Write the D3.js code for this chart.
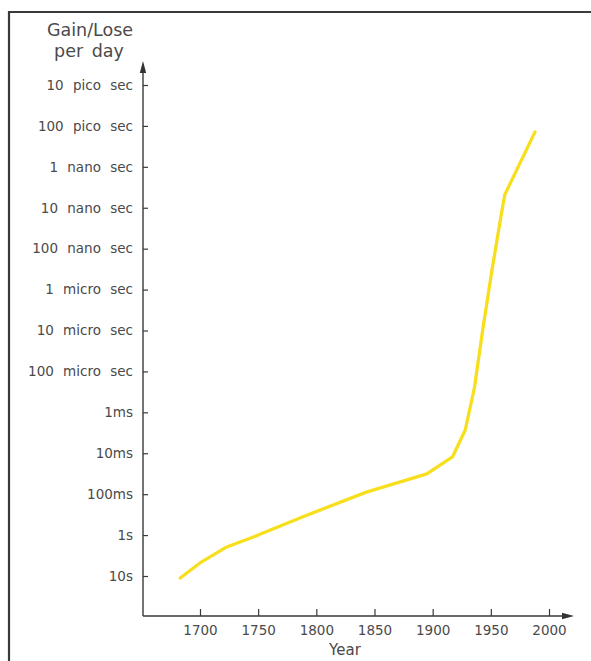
<!DOCTYPE html>
<html>
<head>
<meta charset="utf-8">
<script src="https://cdn.jsdelivr.net/npm/d3@7"></script>
<style>
  html, body { margin: 0; padding: 0; background: #fff; }
  svg { display: block; }
  text { font-family: "DejaVu Sans", sans-serif; fill: #4a4a4a; }
</style>
</head>
<body>
<svg id="chart" width="591" height="661"></svg>
<script>
// ---- data ----
const years = [1683, 1700, 1723, 1750, 1788, 1843, 1895, 1917, 1928, 1936, 1943, 1951, 1959.7, 1962, 1988];
const gainLoseSeconds = [11.2, 4.8, 1.95, 1.0, 0.36, 0.089, 0.032, 0.0123, 0.0027, 0.00024, 9.7e-6, 3.3e-7, 1.1e-8, 4.8e-9, 1.4e-10];
const yTickValues = [10, 1, 0.1, 0.01, 0.001, 1e-4, 1e-5, 1e-6, 1e-7, 1e-8, 1e-9, 1e-10, 1e-11];
const yTickLabels = ["10s", "1s", "100ms", "10ms", "1ms", "100 micro sec", "10 micro sec", "1 micro sec",
                     "100 nano sec", "10 nano sec", "1 nano sec", "100 pico sec", "10 pico sec"];
const xTickValues = [1700, 1750, 1800, 1850, 1900, 1950, 2000];

const svg = d3.select("#chart");

// frame
svg.append("path")
  .attr("d", "M9,661 L9,12 L591,12")
  .attr("fill", "none").attr("stroke", "#3a3a3a").attr("stroke-width", 2.2);

const x = d3.scaleLinear().domain([1700, 2000]).range([200, 549]);
const y = d3.scaleLog().domain([10, 1e-11]).range([576, 85]);

const axisX0 = 143, axisY0 = 616;

// y axis
const yAxis = d3.axisLeft(y)
  .tickValues(yTickValues)
  .tickFormat((d, i) => yTickLabels[i])
  .tickSizeInner(-5).tickSizeOuter(0).tickPadding(10);
const gy = svg.append("g").attr("transform", `translate(${axisX0},0)`).call(yAxis);
gy.select(".domain").remove();
gy.selectAll(".tick line").attr("stroke", "#3a3a3a").attr("stroke-width", 1.2);
gy.selectAll(".tick text").attr("font-size", 13.5).style("word-spacing", "5px").attr("fill", "#4d4d4d")
  .attr("font-family", "DejaVu Sans, sans-serif");

// x axis
const xAxis = d3.axisBottom(x)
  .tickValues(xTickValues)
  .tickFormat(d3.format("d"))
  .tickSizeInner(-7).tickSizeOuter(0).tickPadding(9);
const gx = svg.append("g").attr("transform", `translate(0,${axisY0})`).call(xAxis);
gx.select(".domain").remove();
gx.selectAll(".tick line").attr("stroke", "#3a3a3a").attr("stroke-width", 1.2);
gx.selectAll(".tick text").attr("font-size", 13.5).attr("fill", "#4d4d4d")
  .attr("font-family", "DejaVu Sans, sans-serif");

// axis lines with arrows
svg.append("path")
  .attr("d", `M${axisX0},${axisY0} L${axisX0},70 M${axisX0},${axisY0} L565,${axisY0}`)
  .attr("fill", "none").attr("stroke", "#3a3a3a").attr("stroke-width", 1.4);
svg.append("path")
  .attr("d", `M${axisX0},61 L${axisX0 - 3.2},73 L${axisX0 + 3.2},73 Z`)
  .attr("fill", "#333");
svg.append("path")
  .attr("d", `M574,${axisY0} L562,${axisY0 - 3.2} L562,${axisY0 + 3.2} Z`)
  .attr("fill", "#333");

// titles
svg.append("text").attr("x", 90).attr("y", 36).attr("text-anchor", "middle")
  .attr("font-size", 17.5).text("Gain/Lose");
svg.append("text").attr("x", 89).attr("y", 57).attr("text-anchor", "middle")
  .attr("font-size", 17.5).style("word-spacing", "3px").text("per day");
svg.append("text").attr("x", 345).attr("y", 655).attr("text-anchor", "middle")
  .attr("font-size", 15).text("Year");

// line
const data = years.map((yr, i) => ({ year: yr, v: gainLoseSeconds[i] }));
const line = d3.line().x(d => x(d.year)).y(d => y(d.v)).curve(d3.curveLinear);
svg.append("path").datum(data)
  .attr("d", line)
  .attr("fill", "none").attr("stroke", "#f7df1e").attr("stroke-width", 3.3)
  .attr("stroke-linejoin", "round").attr("stroke-linecap", "round");
</script>
</body>
</html>
